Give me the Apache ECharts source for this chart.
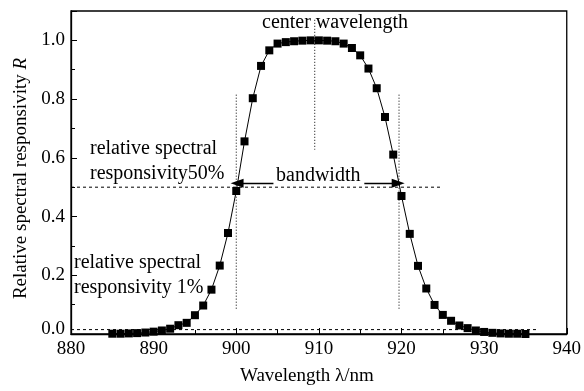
<!DOCTYPE html>
<html>
<head>
<meta charset="utf-8">
<script src="https://cdn.jsdelivr.net/npm/echarts@6/dist/echarts.min.js"></script>
<style>
  html, body { margin: 0; padding: 0; background: #fff; }
  #chart { width: 584px; height: 391px; }
</style>
</head>
<body>
<div id="chart"></div>
<script>
// measured response, 1 nm steps
const wavelengths = [885, 886, 887, 888, 889, 890, 891, 892, 893, 894, 895, 896, 897, 898, 899,
  900, 901, 902, 903, 904, 905, 906, 907, 908, 909, 910, 911, 912, 913, 914, 915, 916, 917, 918, 919,
  920, 921, 922, 923, 924, 925, 926, 927, 928, 929, 930, 931, 932, 933, 934, 935];
const responsivity = [0.001, 0.001, 0.002, 0.003, 0.005, 0.008, 0.012, 0.018, 0.030, 0.038, 0.064, 0.097, 0.151, 0.233, 0.344,
  0.487, 0.656, 0.803, 0.913, 0.966, 0.989, 0.994, 0.997, 0.999, 1.000, 1.000, 0.999, 0.997, 0.989, 0.974, 0.949, 0.904, 0.837, 0.739, 0.611,
  0.470, 0.341, 0.232, 0.155, 0.099, 0.065, 0.045, 0.029, 0.020, 0.012, 0.007, 0.004, 0.002, 0.001, 0.001, 0.000];

// annotation guides (data coordinates)
const halfLine = [[880, 0.5], [925, 0.5]];
const onePercentLine = [[880, 0.015], [936.5, 0.015]];
const leftEdge = [[900, 0.815], [900, 0.082]];
const rightEdge = [[919.7, 0.815], [919.7, 0.082]];
const centerLine = [[909.5, 1.07], [909.5, 0.628]];
const leftArrow = [[904.5, 0.513], [900.1, 0.513]];
const rightArrow = [[915.5, 0.513], [919.6, 0.513]];

const xTicks = { min: 880, max: 940, interval: 10 };
const yTicks = { min: 0, max: 1.1, interval: 0.2 };

const FONT = '"Liberation Serif", "DejaVu Serif", serif';
const chart = echarts.init(document.getElementById('chart'));

const guide = (data, type) => ({
  type: 'line',
  data: data,
  symbol: 'none',
  silent: true,
  z: 1,
  lineStyle: { color: '#000', width: 1, type: type },
});

const arrow = (data) => ({
  type: 'line',
  data: [],
  silent: true,
  markLine: {
    silent: true,
    symbol: ['none', 'triangle'],
    symbolSize: [9, 13],
    label: { show: false },
    lineStyle: { color: '#000', width: 1.3, type: 'solid' },
    data: [[{ coord: data[0] }, { coord: data[1] }]],
  },
});

const option = {
  animation: false,
  grid: {
    left: 71, right: 17, top: 11, bottom: 55,
    show: true, borderColor: '#000', borderWidth: 1.3,
  },
  xAxis: {
    type: 'value',
    min: xTicks.min, max: xTicks.max, interval: xTicks.interval,
    name: 'Wavelength λ/nm',
    nameLocation: 'middle',
    nameGap: 33,
    nameTextStyle: { fontFamily: FONT, fontSize: 19, color: '#000', padding: [0, 24, 0, 0] },
    axisLine: { lineStyle: { color: '#000', width: 1.3 } },
    axisTick: { inside: true, length: 6, lineStyle: { color: '#000' } },
    minorTick: { show: true, splitNumber: 2, length: 4, lineStyle: { color: '#000' } },
    splitLine: { show: false },
    axisLabel: { fontFamily: FONT, fontSize: 19, color: '#000', margin: 6 },
  },
  yAxis: {
    type: 'value',
    min: yTicks.min, max: yTicks.max, interval: yTicks.interval,
    name: 'Relative spectral responsivity {i|R}',
    nameLocation: 'middle',
    nameGap: 37,
    nameTextStyle: {
      fontFamily: FONT, fontSize: 19, color: '#000', padding: [0, 0, 0, -12],
      rich: { i: { fontFamily: FONT, fontSize: 19, fontStyle: 'italic', color: '#000' } },
    },
    axisLine: { lineStyle: { color: '#000', width: 1.3 } },
    axisTick: { inside: true, length: 6, lineStyle: { color: '#000' } },
    minorTick: { show: true, splitNumber: 2, length: 4, lineStyle: { color: '#000' } },
    splitLine: { show: false },
    axisLabel: {
      fontFamily: FONT, fontSize: 19, color: '#000', margin: 6,
      showMaxLabel: false,
      formatter: (v) => (v === 0 ? '{z|0.0}' : v.toFixed(1)),
      rich: { z: { fontFamily: FONT, fontSize: 19, color: '#000', padding: [0, 0, 10, 0] } },
    },
  },
  series: [
    guide(halfLine, [3, 3]),
    guide(onePercentLine, [3, 3]),
    guide(leftEdge, [1, 2]),
    guide(rightEdge, [1, 2]),
    guide(centerLine, [1, 2]),
    arrow(leftArrow),
    arrow(rightArrow),
    {
      type: 'line',
      data: wavelengths.map((w, i) => [w, responsivity[i]]),
      symbol: 'rect',
      symbolSize: 8,
      z: 3,
      itemStyle: { color: '#000' },
      lineStyle: { color: '#000', width: 1 },
    },
  ],
  graphic: [
    { type: 'text', left: 262, top: 13, style: { text: 'center wavelength', font: '20px ' + FONT, fill: '#000' } },
    { type: 'text', left: 90, top: 139, style: { text: 'relative spectral', font: '20px ' + FONT, fill: '#000' } },
    { type: 'text', left: 90, top: 164, style: { text: 'responsivity50%', font: '20px ' + FONT, fill: '#000' } },
    { type: 'text', left: 276, top: 166, style: { text: 'bandwidth', font: '20px ' + FONT, fill: '#000' } },
    { type: 'text', left: 74, top: 253, style: { text: 'relative spectral', font: '20px ' + FONT, fill: '#000' } },
    { type: 'text', left: 74, top: 278, style: { text: 'responsivity 1%', font: '20px ' + FONT, fill: '#000' } },
  ],
};

chart.setOption(option);
</script>
</body>
</html>
